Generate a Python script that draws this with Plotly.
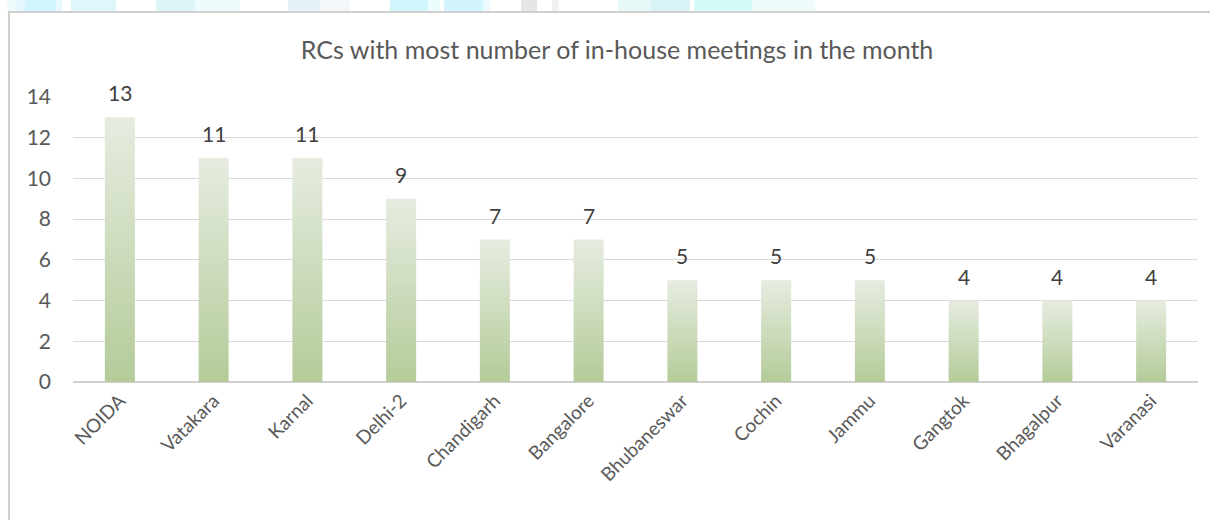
import plotly.graph_objects as go

centres = ["NOIDA", "Vatakara", "Karnal", "Delhi-2", "Chandigarh", "Bangalore",
           "Bhubaneswar", "Cochin", "Jammu", "Gangtok", "Bhagalpur", "Varanasi"]
meetings = [13, 11, 11, 9, 7, 7, 5, 5, 5, 4, 4, 4]
y_ticks = [0, 2, 4, 6, 8, 10, 12, 14]

FONT = "Lato"
W, H = 1210, 520
ML, MR, MT, MB = 73, 12, 97, 138
HALF = 0.16  # half bar width in category units

fig = go.Figure()

# Excel-style gradient columns: one filled shape per bar so each gets its own gradient
for i, v in enumerate(meetings):
    fig.add_trace(go.Scatter(
        x=[i - HALF, i + HALF, i + HALF, i - HALF, i - HALF],
        y=[0, 0, v, v, 0],
        mode="lines",
        line=dict(width=0),
        fill="toself",
        fillgradient=dict(
            type="vertical",
            colorscale=[[0, "#b4cb99"], [1, "#e6ece0"]],
        ),
        hoverinfo="skip",
        showlegend=False,
    ))

for i, v in enumerate(meetings):
    fig.add_annotation(
        x=i, y=v, text=str(v), showarrow=False,
        yanchor="bottom", yshift=10,
        font=dict(family=FONT, size=21, color="#404040"),
    )

fig.update_layout(
    width=W,
    height=H,
    margin=dict(l=ML, r=MR, t=MT, b=MB),
    paper_bgcolor="white",
    plot_bgcolor="white",
    title=dict(
        text="RCs with most number of in-house meetings in the month",
        x=0.51, xanchor="center", y=0.903, yanchor="middle",
        font=dict(family=FONT, size=25, color="#595959"),
    ),
    xaxis=dict(
        range=[-0.5, len(centres) - 0.5],
        tickvals=list(range(len(centres))),
        ticktext=centres,
        tickangle=-45,
        showgrid=False,
        zeroline=False,
        showline=False,
        ticklabelstandoff=3,
        tickfont=dict(family=FONT, size=19, color="#595959"),
    ),
    yaxis=dict(
        range=[0, 14],
        tickvals=y_ticks,
        showgrid=True,
        gridcolor="#d9d9d9",
        gridwidth=1,
        zeroline=True,
        zerolinecolor="#d0d0d0",
        zerolinewidth=1.5,
        ticklabelstandoff=21,
        tickfont=dict(family=FONT, size=21, color="#595959"),
    ),
    font=dict(family=FONT),
)

pw, ph = W - ML - MR, H - MT - MB


def px_x(x):
    return (x - ML) / pw


def px_y(y):
    return (H - MB - y) / ph


# faded header strip above the chart box (pixel x ranges)
strip = [(7, 16, "#f0fbfe"), (16, 25, "#e6f8fd"), (25, 56, "#d3f5fd"), (56, 62, "#e8f9fe"),
         (71, 116, "#e0f6fd"), (156, 195, "#dcf6f8"), (195, 240, "#effcfd"),
         (288, 320, "#e6f1f8"), (320, 350, "#f4f7f9"), (390, 428, "#d0f5fb"),
         (428, 440, "#ecfdfd"), (444, 483, "#d2f3fc"), (483, 490, "#ecfafd"),
         (521, 537, "#e6e6e6"), (552, 559, "#f2f2f2"), (618, 650, "#e6f8f8"),
         (650, 690, "#d9f4f6"), (694, 752, "#d6faf8"), (752, 815, "#f0fcfc")]
for x0, x1, c in strip:
    fig.add_shape(type="rect", xref="paper", yref="paper",
                  x0=px_x(x0), x1=px_x(x1), y0=px_y(11), y1=px_y(0),
                  line_width=0, fillcolor=c, layer="below")

# chart box: only top and left edges are visible
fig.add_shape(type="line", xref="paper", yref="paper",
              x0=px_x(8), x1=px_x(W + 5), y0=px_y(12), y1=px_y(12),
              line=dict(color="#d0d0d0", width=2))
fig.add_shape(type="line", xref="paper", yref="paper",
              x0=px_x(9), x1=px_x(9), y0=px_y(12), y1=px_y(H + 5),
              line=dict(color="#d0d0d0", width=2))

fig.write_html("out.html", config={"displayModeBar": False},
               post_script="document.body.style.margin='0px';")
